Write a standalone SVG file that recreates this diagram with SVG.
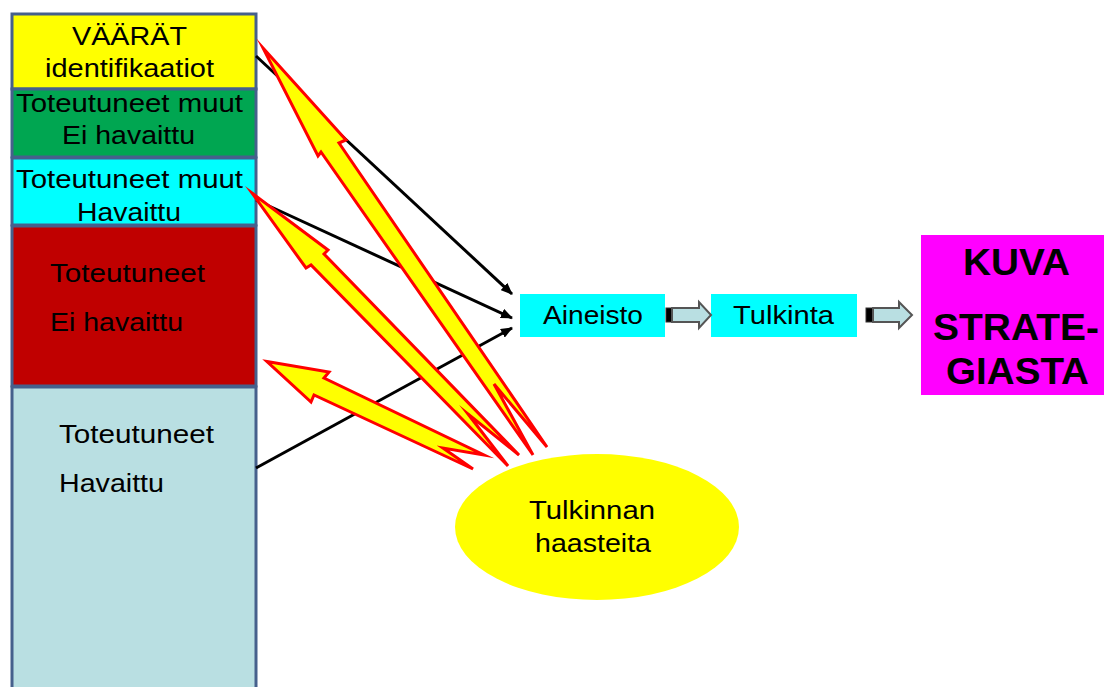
<svg xmlns="http://www.w3.org/2000/svg" width="1104" height="687" viewBox="0 0 1104 687">
<style>
text{font-family:"Liberation Sans",Arial,sans-serif;fill:#000;font-size:26px}
.b{fill:#ff0;stroke:#f00;stroke-width:3;stroke-linejoin:miter;stroke-miterlimit:10}
.s{stroke:#46608c;stroke-width:3}
.c{stroke:#000;stroke-width:3;fill:none;marker-end:url(#a)}
.ba{fill:#b9dfe2;stroke:#555;stroke-width:2}
.bk{fill:#000;stroke:#333;stroke-width:1}
.h{font-weight:bold;font-size:36px}
</style>
<defs><marker id="a" markerUnits="userSpaceOnUse" markerWidth="12" markerHeight="10" refX="11" refY="5" orient="auto"><path d="M0 0L12 5L0 10Z" fill="#000"/></marker></defs>
<rect width="1104" height="687" fill="#fff"/>
<g id="n-vaarat"><rect class="s" x="12" y="14" width="244" height="75" fill="#ff0"/><text x="72" y="45" textLength="115" lengthAdjust="spacingAndGlyphs">VÄÄRÄT</text><text x="45" y="77" textLength="169" lengthAdjust="spacingAndGlyphs">identifikaatiot</text></g>
<g id="n-muut-ei"><rect class="s" x="12" y="89" width="244" height="68" fill="#00a651"/><text x="16" y="112" textLength="227" lengthAdjust="spacingAndGlyphs">Toteutuneet muut</text><text x="62" y="144" textLength="133" lengthAdjust="spacingAndGlyphs">Ei havaittu</text></g>
<g id="n-muut-hav"><rect class="s" x="12" y="158" width="244" height="67" fill="#0ff"/><text x="16" y="188" textLength="227" lengthAdjust="spacingAndGlyphs">Toteutuneet muut</text><text x="77" y="221" textLength="104" lengthAdjust="spacingAndGlyphs">Havaittu</text></g>
<g id="n-tot-ei"><rect class="s" x="12" y="226" width="244" height="160" fill="#c00000"/><text x="50" y="282" textLength="155" lengthAdjust="spacingAndGlyphs">Toteutuneet</text><text x="50" y="331" textLength="133" lengthAdjust="spacingAndGlyphs">Ei havaittu</text></g>
<g id="n-tot-hav"><rect class="s" x="12" y="387" width="244" height="310" fill="#b9dfe2"/><text x="59" y="443" textLength="155" lengthAdjust="spacingAndGlyphs">Toteutuneet</text><text x="59" y="492" textLength="105" lengthAdjust="spacingAndGlyphs">Havaittu</text></g>
<g id="connectors">
<path class="c" d="M256 56L512 294"/>
<path class="c" d="M256 200L512 318"/>
<path class="c" d="M256 468L512 328"/>
</g>
<g id="bolts">
<path class="b" d="M263 48L346 140L339 143L547 447L494 384L533 455L321 152L318 156Z"/>
<path class="b" d="M252 193L328 250L324 254L519 455L468 414L508 466L311 265L306 268Z"/>
<path class="b" d="M267 361.5L329 372L324 378L484 455L443 448L473 469L314 395L311 402Z"/>
</g>
<g id="n-haasteita"><ellipse cx="597" cy="527" rx="142" ry="73" fill="#ff0"/><text x="529" y="519" textLength="126" lengthAdjust="spacingAndGlyphs">Tulkinnan</text><text x="535" y="552" textLength="116" lengthAdjust="spacingAndGlyphs">haasteita</text></g>
<g id="n-aineisto"><rect x="520" y="294" width="145" height="43" fill="#0ff"/><text x="543" y="324" textLength="100" lengthAdjust="spacingAndGlyphs">Aineisto</text></g>
<g id="n-tulkinta"><rect x="711" y="294" width="146" height="43" fill="#0ff"/><text x="733" y="324" textLength="101" lengthAdjust="spacingAndGlyphs">Tulkinta</text></g>
<g id="n-kuva"><rect x="921" y="235" width="183" height="160" fill="#f0f"/><text class="h" x="963" y="275" textLength="107" lengthAdjust="spacingAndGlyphs">KUVA</text><text class="h" x="933" y="340" textLength="166" lengthAdjust="spacingAndGlyphs">STRATE-</text><text class="h" x="946" y="384" textLength="143" lengthAdjust="spacingAndGlyphs">GIASTA</text></g>
<g id="block-arrows">
<rect class="bk" x="666" y="308" width="6" height="14"/><path class="ba" d="M672 308H699V302L711 315L699 328V322H672Z"/>
<rect class="bk" x="866" y="308" width="7" height="14"/><path class="ba" d="M873 308H899V302L912 315L899 328V322H873Z"/>
</g>
</svg>
